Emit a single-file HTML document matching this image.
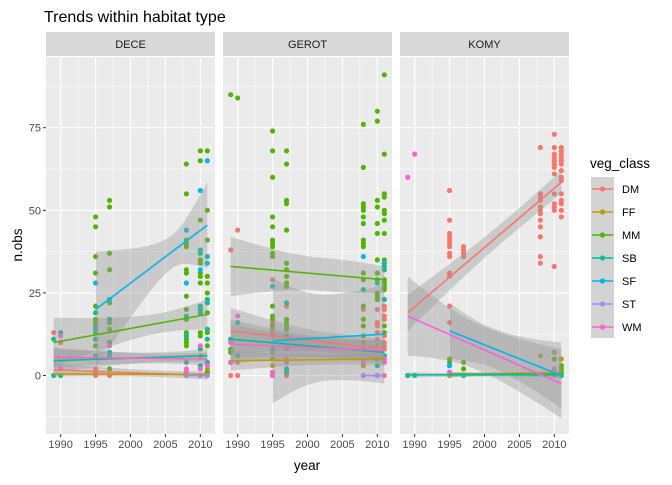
<!DOCTYPE html>
<html><head><meta charset="utf-8">
<style>
body{margin:0;background:#fff;}
svg text{font-family:"Liberation Sans",Arial,sans-serif;}
</style></head>
<body>
<svg id="chart" width="672" height="480" xmlns="http://www.w3.org/2000/svg">
<text x="44" y="22" font-size="16" fill="#000">Trends within habitat type</text>
<text x="307" y="470" font-size="13.5" fill="#000" text-anchor="middle">year</text>
<text transform="translate(22,245) rotate(-90)" font-size="13.5" fill="#000" text-anchor="middle">n.obs</text>
<g id="panels"></g>
<g id="legend"></g>
</svg>
<script>
const classes = ["DM","FF","MM","SB","SF","ST","WM"];
const colors = ["#F8766D","#C49A00","#53B400","#00C094","#00B6EB","#A58AFF","#FB61D7"];
const panelNames = ["DECE","GEROT","KOMY"];
const xTicks = [1990,1995,2000,2005,2010];
const yTicks = [0,25,50,75];

// points: [year, value] lists per class, per panel
const pointsDECE = {
 DM:[[1989,13],[1990,10],[1995,0],[1995,2],[1997,0],[2008,1],[2010,6],[2010,0],[2011,0]],
 FF:[[1995,1],[2011,2],[2011,1],[2008,0]],
 MM:[[1995,48],[1995,45],[1995,36],[1995,31],[1995,21],[1995,17],[1995,16],[1995,15],[1995,13],[1995,11],[1995,9],
     [1997,53],[1997,51],[1997,37],[1997,32],[1997,22],[1997,17],[1997,16],[1997,14],[1997,10],[1997,2],
     [2008,64],[2008,55],[2008,41],[2008,40],[2008,39],[2008,32],[2008,31],[2008,24],[2008,20],[2008,17],[2008,13],[2008,12],[2008,11],[2008,10],[2008,9],
     [2010,68],[2010,65],[2010,47],[2010,35],[2010,34],[2010,31],[2010,30],[2010,28],[2010,13],[2010,12],
     [2011,68],[2011,50],[2011,41],[2011,30],[2011,28],[2011,25],[2011,19],[2011,13],[2011,9],[2011,1]],
 SB:[[1989,11],[1989,0],[1990,13],[1990,0],[1995,19],[1995,6],[1995,11],[1997,7],[1997,6],[1997,17],[2008,18],[2008,12],[2008,4],
     [2010,38],[2010,37],[2010,21],[2010,20],[2010,19],[2010,8],[2010,3],[2011,36],[2011,23],[2011,22],[2011,14],[2011,11],[2011,4]],
 SF:[[1995,28],[1995,14],[1997,23],[2008,44],[2008,28],[2010,56],[2010,32],[2011,65],[2011,34]],
 ST:[[2008,0],[2010,0],[2011,0]],
 WM:[[1990,12],[1990,2],[1997,9],[2008,2],[2008,1],[2010,9],[2010,2],[2011,3]]
};
const pointsGEROT = {
 DM:[[1989,38],[1989,0],[1990,44],[1990,0],[1995,29],[1995,16],[1995,15],[1995,14],[1995,13],[1995,12],[1995,7],[1995,0],
     [1997,21],[1997,8],[1997,4],[1997,0],[2008,20],[2008,17],[2008,15],[2008,0],
     [2010,20],[2010,16],[2010,15],[2010,13],[2010,11],[2010,9],[2010,0],
     [2011,21],[2011,20],[2011,18],[2011,17],[2011,12],[2011,10],[2011,9],[2011,8],[2011,0]],
 FF:[[1989,4],[1995,3],[1997,5],[2008,3],[2011,4]],
 MM:[[1989,85],[1989,8],[1989,7],[1990,84],
     [1995,74],[1995,68],[1995,60],[1995,48],[1995,45],[1995,41],[1995,40],[1995,39],[1995,37],[1995,36],[1995,21],[1995,18],[1995,17],[1995,15],[1995,5],
     [1997,68],[1997,64],[1997,53],[1997,52],[1997,44],[1997,34],[1997,32],[1997,30],[1997,28],[1997,27],[1997,17],[1997,16],[1997,15],[1997,14],[1997,1],
     [2008,76],[2008,63],[2008,52],[2008,51],[2008,50],[2008,48],[2008,46],[2008,41],[2008,40],[2008,39],[2008,31],[2008,29],[2008,21],[2008,17],[2008,15],[2008,12],[2008,10],
     [2010,80],[2010,77],[2010,53],[2010,51],[2010,46],[2010,43],[2010,35],[2010,31],[2010,29],[2010,25],[2010,24],[2010,23],[2010,5],
     [2011,91],[2011,67],[2011,55],[2011,54],[2011,50],[2011,49],[2011,47],[2011,43],[2011,35],[2011,34],[2011,33],[2011,29],[2011,28],[2011,27],[2011,26],[2011,15],[2011,13]],
 SB:[[1989,11],[1990,16],[1990,6],[1995,8],[1997,22],[1997,12],[1997,2],[1997,1],[2008,26],[2008,8],[2010,28],[2010,3],[2011,32],[2011,23],[2011,6]],
 SF:[[1995,27],[2008,36],[2011,34]],
 ST:[[2008,0],[2010,0]],
 WM:[[1989,10],[1989,4],[1990,18],[1990,4],[1995,0],[1995,1],[1997,4],[2008,4],[2011,5],[2011,4]]
};
const pointsKOMY = {
 DM:[[1995,56],[1995,47],[1995,43],[1995,42],[1995,41],[1995,40],[1995,39],[1995,37],[1995,36],[1995,31],[1995,30],[1995,21],[1995,16],
     [1997,39],[1997,38],[1997,37],[1997,36],
     [2008,69],[2008,55],[2008,54],[2008,53],[2008,51],[2008,50],[2008,49],[2008,47],[2008,45],[2008,42],[2008,36],[2008,34],
     [2010,73],[2010,69],[2010,67],[2010,66],[2010,65],[2010,64],[2010,63],[2010,61],[2010,55],[2010,52],[2010,51],[2010,50],[2010,33],[2010,0],
     [2011,69],[2011,68],[2011,67],[2011,66],[2011,65],[2011,64],[2011,62],[2011,60],[2011,59],[2011,55],[2011,53],[2011,52],[2011,50],[2011,48]],
 FF:[[1995,1],[1995,0],[2008,6],[2010,7],[2011,5],[2011,0]],
 MM:[[1995,5],[1995,4],[1997,4],[1997,2],[2010,5],[2011,3],[2011,2],[2011,1]],
 SB:[[1989,0],[1990,0],[1995,3],[1997,0],[2011,0]],
 SF:[[1995,3]],
 ST:[],
 WM:[[1989,60],[1990,67],[1995,1],[2010,2]]
};
const panelPoints = [pointsDECE, pointsGEROT, pointsKOMY];

// fitted trends: class, x0, x1, y0, y1, halfwidth start, halfwidth at mean, halfwidth end, mean x
const fitsDECE = [
 ["DM",1989,2011,1.7,0,2,1,1.2,2004],["FF",1989,2011,0.5,0.3,0.5,0.3,0.4,2004],
 ["MM",1989,2011,10,18.5,7.5,3,4.5,2004],["SB",1989,2011,4.5,6,3.5,1.5,2,2004],
 ["SF",1995,2011,20,45.5,17.5,5,13,2006],["ST",2008,2011,0,0,0,0,0,2010],
 ["WM",1989,2011,5.5,5,3,1.5,2,2004]];
const fitsGEROT = [
 ["DM",1989,2011,13.5,8,7,3,3,2003],["FF",1989,2011,4.5,5,3,1.5,2,2003],
 ["MM",1989,2011,33,29,9,5,4,2002],["SB",1989,2011,11,7,6,3,3.5,2003],
 ["SF",1995,2011,10.5,12.5,19,13,15,2003],["ST",2008,2011,0,0,0,0,0,2010],
 ["WM",1989,2011,9.5,7.5,6,3,3,2003]];
const fitsKOMY = [
 ["DM",1989,2011,19,58.5,5.5,3,3.5,2003],["FF",1995,2011,0.2,0.8,0.8,0.5,0.8,2003],
 ["MM",1995,2011,0.4,0.4,0.6,0.4,0.6,2003],["SB",1989,2011,0.2,0.2,0.8,0.5,0.8,2000],
 ["SF",1995,2011,13.5,0,8.5,6,10,2001],["WM",1989,2011,18,-2.5,12,7,10.5,1999]];
const panelFits = [fitsDECE, fitsGEROT, fitsKOMY];

const NS="http://www.w3.org/2000/svg";
const panelLefts=[46,223,400], PW=169, PT=57, PB=434;
const XMIN=1987.9, XMAX=2012.1, YMIN=-17.7, YMAX=96.4;
function yS(v){return PB-(v-YMIN)/(YMAX-YMIN)*(PB-PT);}
function mk(tag,attrs,parent){const e=document.createElementNS(NS,tag);for(const k in attrs)e.setAttribute(k,attrs[k]);parent.appendChild(e);return e;}
const root=document.getElementById('panels');
panelNames.forEach((pn,pi)=>{
  const L=panelLefts[pi];
  const xS=v=>L+(v-XMIN)/(XMAX-XMIN)*PW;
  const g=mk('g',{},root);
  
  
  const bg=mk('rect',{x:L,y:PT,width:PW,height:PB-PT,fill:'#EBEBEB'},g);
  
  
  [1987.5,1992.5,1997.5,2002.5,2007.5].forEach(v=>{if(v>XMIN)mk('line',{x1:xS(v),x2:xS(v),y1:PT,y2:PB,stroke:'#fff','stroke-width':0.55},g);});
  [-12.5,12.5,37.5,62.5,87.5].forEach(v=>mk('line',{x1:L,x2:L+PW,y1:yS(v),y2:yS(v),stroke:'#fff','stroke-width':0.55},g));
  xTicks.forEach(v=>mk('line',{x1:xS(v),x2:xS(v),y1:PT,y2:PB,stroke:'#fff','stroke-width':1.1},g));
  yTicks.forEach(v=>mk('line',{x1:L,x2:L+PW,y1:yS(v),y2:yS(v),stroke:'#fff','stroke-width':1.1},g));
  const st=mk('rect',{x:L,y:32,width:PW,height:24,fill:'#D9D9D9'},g);
  
  
  const stt=mk('text',{x:L+PW/2,y:48,'font-size':11,fill:'#1A1A1A','text-anchor':'middle'},g);
  stt.textContent=pn;
  
  
  xTicks.forEach(v=>{
    mk('line',{x1:xS(v),x2:xS(v),y1:PB,y2:PB+3,stroke:'#333','stroke-width':1},g);
    const t=mk('text',{x:xS(v),y:PB+14,'font-size':11,fill:'#4D4D4D','text-anchor':'middle'},g);
    t.textContent=v;
    
    
  });
  if(pi===0){yTicks.forEach(v=>{
    mk('line',{x1:L-3,x2:L,y1:yS(v),y2:yS(v),stroke:'#333','stroke-width':1},g);
    const t=mk('text',{x:L-5,y:yS(v)+4,'font-size':11,fill:'#4D4D4D','text-anchor':'end'},g);
    t.textContent=v;
    
    
  });}
  const pts=panelPoints[pi];
  classes.forEach((c,ci)=>{(pts[c]||[]).forEach(p=>{
    const d=mk('circle',{cx:xS(p[0]),cy:yS(p[1]),r:2.6,fill:colors[ci]},g);
    
    
  });});
  const fits=panelFits[pi];
  const hw=(f,x)=>{const[c,x0,x1,y0,y1,w0,wm,w1,xm]=f;const we=x<xm?w0:w1;const xe=x<xm?x0:x1;const r=(xe===xm)?0:(x-xm)/(xe-xm);return Math.sqrt(wm*wm+(we*we-wm*wm)*r*r);};
  const cen=(f,x)=>f[3]+(f[4]-f[3])*(x-f[1])/(f[2]-f[1]);
  fits.forEach(f=>{
    if(f[5]===0&&f[6]===0)return;
    const up=[],dn=[];
    for(let i=0;i<=40;i++){const x=f[1]+(f[2]-f[1])*i/40;const h=hw(f,x),c=cen(f,x);
      up.push(xS(x).toFixed(1)+','+Math.max(PT,Math.min(PB,yS(c+h))).toFixed(1));
      dn.unshift(xS(x).toFixed(1)+','+Math.max(PT,Math.min(PB,yS(c-h))).toFixed(1));}
    const rb=mk('polygon',{points:up.concat(dn).join(' '),fill:'#999999','fill-opacity':0.4},g);
    
    
  });
  fits.forEach(f=>{
    const ci=classes.indexOf(f[0]);
    const ln=mk('line',{x1:xS(f[1]),y1:yS(f[3]),x2:xS(f[2]),y2:yS(f[4]),stroke:colors[ci],'stroke-width':1.6},g);
    
    
  });
});
const lg=document.getElementById('legend');
const lt=mk('text',{x:590,y:168,'font-size':13.5,fill:'#000'},lg);
lt.textContent='veg_class';


mk('rect',{x:591,y:177,width:23,height:161,fill:'#D3D3D3'},lg);
classes.forEach((c,i)=>{
  const cy=189+i*23;
  const e=mk('g',{},lg);
  
  
  mk('line',{x1:592,x2:613,y1:cy,y2:cy,stroke:colors[i],'stroke-width':1.6},e);
  mk('circle',{cx:602.5,cy:cy,r:2.6,fill:colors[i]},e);
  const t=mk('text',{x:622,y:cy+4,'font-size':11,fill:'#000'},e);
  t.textContent=c;
});
</script>
</body></html>
